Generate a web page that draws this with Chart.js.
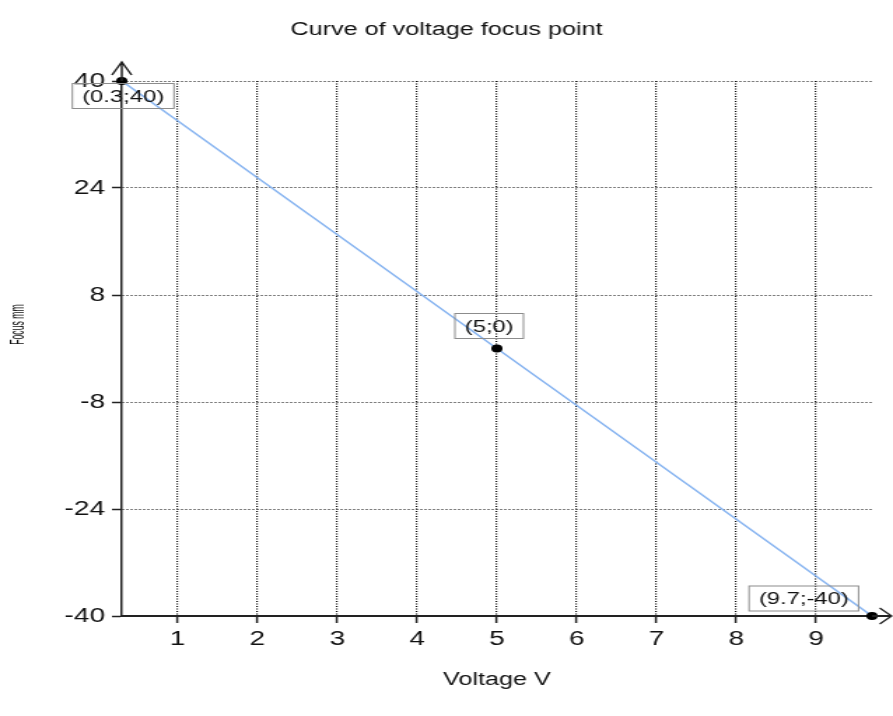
<!DOCTYPE html>
<html>
<head>
<meta charset="utf-8">
<title>Curve of voltage focus point</title>
<script src="https://cdn.jsdelivr.net/npm/chart.js@4.4.1/dist/chart.umd.min.js"></script>
<style>
    html, body { margin: 0; padding: 0; background: #fff; }
</style>
</head>
<body>
<canvas id="myChart" width="638" height="716" style="width:893px;height:716px;display:block"></canvas>
<script>
// values
var voltage = [0.3, 5, 9.7];
var focus = [40, 0, -40];
var xTicks = [1, 2, 3, 4, 5, 6, 7, 8, 9];
var yTicks = [-40, -24, -8, 8, 24, 40];

// the picture looks stretched sideways, so the canvas is drawn narrow and widened by css
var fontName = "'Liberation Sans', Arial, sans-serif";
var textColor = '#111';
var labelOffsets = [[1, 15], [-5.5, -22.5], [-48.7, -17.5]];

var points = voltage.map(function (v, i) {
    return { x: v, y: focus[i] };
});

var extras = {
    id: 'extras',
    afterDraw: function (chart) {
        var ctx = chart.ctx;
        var area = chart.chartArea;
        var xs = chart.scales.x;
        var ys = chart.scales.y;
        ctx.save();
        ctx.strokeStyle = '#222';

        // arrow on top of the y axis
        ctx.lineWidth = 1.5;
        ctx.beginPath();
        ctx.moveTo(area.left, area.top);
        ctx.lineTo(area.left, area.top - 19);
        ctx.moveTo(area.left - 7, area.top - 6);
        ctx.lineTo(area.left, area.top - 19);
        ctx.lineTo(area.left + 7, area.top - 6);
        ctx.stroke();

        // arrow at the right end of the x axis
        ctx.beginPath();
        ctx.lineWidth = 2;
        ctx.moveTo(area.right, area.bottom);
        ctx.lineTo(area.right + 13, area.bottom);
        ctx.stroke();
        ctx.beginPath();
        ctx.lineWidth = 1.3;
        ctx.moveTo(area.right + 5.5, area.bottom - 8);
        ctx.lineTo(area.right + 14, area.bottom);
        ctx.lineTo(area.right + 5.5, area.bottom + 8);
        ctx.stroke();

        // y axis title, sits a bit above the middle and is squeezed like the original
        ctx.save();
        ctx.translate(13, (area.top + area.bottom) / 2 - 24);
        ctx.rotate(-Math.PI / 2);
        ctx.scale(0.62, 1);
        ctx.font = '14px ' + fontName;
        ctx.fillStyle = textColor;
        ctx.textAlign = 'center';
        ctx.textBaseline = 'middle';
        ctx.fillText('Focus mm', 0, 0);
        ctx.restore();

        // point labels in boxes
        ctx.font = '17px ' + fontName;
        ctx.textAlign = 'center';
        ctx.textBaseline = 'middle';
        points.forEach(function (p, i) {
            var txt = '(' + p.x + ';' + p.y + ')';
            var cx = xs.getPixelForValue(p.x) + labelOffsets[i][0];
            var cy = ys.getPixelForValue(p.y) + labelOffsets[i][1];
            var w = ctx.measureText(txt).width + 14;
            var h = 25;
            ctx.strokeStyle = '#8c8c8c';
            ctx.lineWidth = 1;
            ctx.strokeRect(cx - w / 2, cy - h / 2, w, h);
            ctx.fillStyle = textColor;
            ctx.fillText(txt, cx, cy + 1);
        });
        ctx.restore();
    }
};

new Chart(document.getElementById('myChart').getContext('2d'), {
    type: 'scatter',
    data: {
        datasets: [{
            data: points,
            showLine: true,
            borderColor: '#86b3f0',
            borderWidth: 1.5,
            pointRadius: 4,
            pointBackgroundColor: '#000',
            pointBorderColor: '#000',
            pointBorderWidth: 0,
            clip: false
        }]
    },
    options: {
        responsive: false,
        devicePixelRatio: 1,
        animation: false,
        layout: { padding: { top: 0, right: 15, bottom: 0, left: 15 } },
        plugins: {
            legend: { display: false },
            tooltip: { enabled: false },
            title: {
                display: true,
                text: 'Curve of voltage focus point',
                color: textColor,
                font: { family: fontName, size: 18, weight: 'normal' },
                padding: { top: 19, bottom: 40.4 }
            }
        },
        scales: {
            x: {
                type: 'linear',
                min: 0.3,
                max: 9.7,
                afterBuildTicks: function (axis) {
                    axis.ticks = xTicks.map(function (v) { return { value: v }; });
                },
                afterFit: function (scale) { scale.height = 100; },
                grid: {
                    color: '#000',
                    lineWidth: 1.2,
                    tickLength: 7,
                    tickColor: '#222',
                    tickWidth: 1.5,
                    tickBorderDash: []
                },
                border: { color: '#222', width: 2, dash: [1, 1.5] },
                ticks: {
                    color: textColor,
                    padding: 4,
                    maxRotation: 0,
                    font: { family: fontName, size: 20 }
                },
                title: {
                    display: true,
                    text: 'Voltage V',
                    color: textColor,
                    font: { family: fontName, size: 18 },
                    padding: { top: 4, bottom: 25 }
                }
            },
            y: {
                type: 'linear',
                min: -40,
                max: 40,
                afterBuildTicks: function (axis) {
                    axis.ticks = yTicks.map(function (v) { return { value: v }; });
                },
                afterFit: function (scale) { scale.width = 72; },
                grid: {
                    color: '#000',
                    lineWidth: 1,
                    tickLength: 7,
                    tickColor: '#222',
                    tickWidth: 1.5,
                    tickBorderDash: []
                },
                border: { color: '#222', width: 1.5, dash: [1, 2] },
                ticks: {
                    color: textColor,
                    padding: 5,
                    font: { family: fontName, size: 20 }
                }
            }
        }
    },
    plugins: [extras]
});
</script>
</body>
</html>
